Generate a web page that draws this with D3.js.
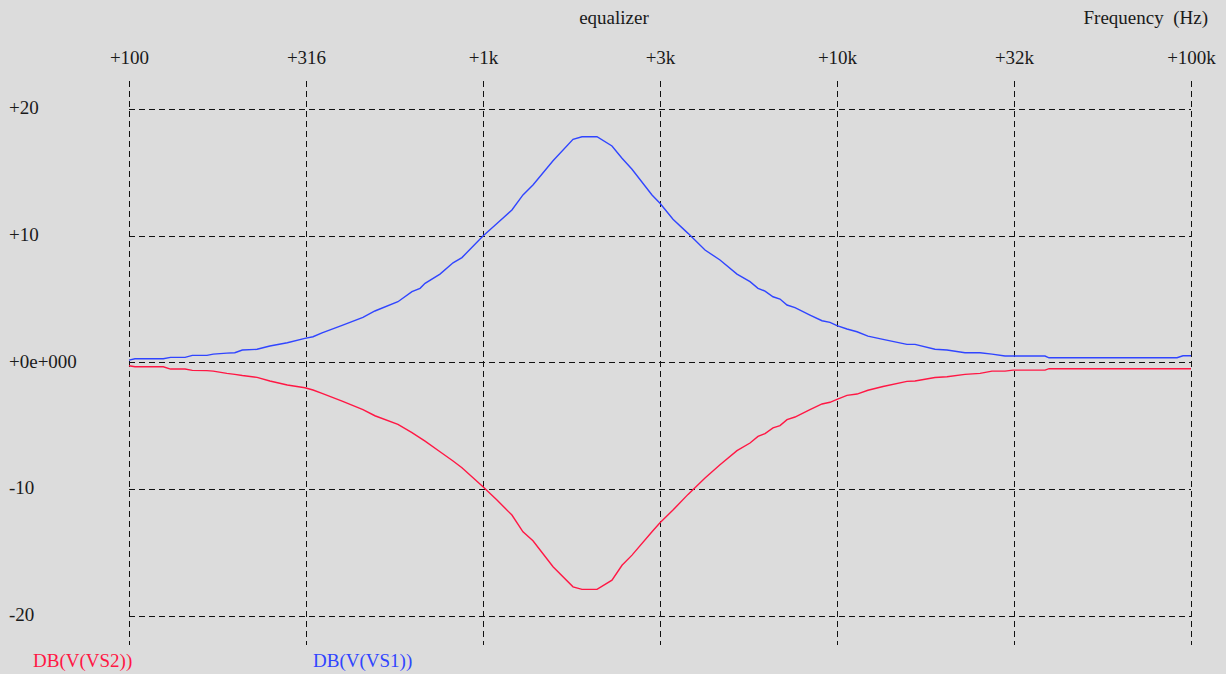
<!DOCTYPE html>
<html>
<head>
<meta charset="utf-8">
<script src="https://cdn.jsdelivr.net/npm/d3@7/dist/d3.min.js"></script>
<style>
  html, body { margin: 0; padding: 0; background: #dcdcdc; }
  svg { display: block; }
</style>
</head>
<body>
<svg id="chart" width="1226" height="674"></svg>
<script>
// ---- data ----
const title = "equalizer";
const xAxisTitle = "Frequency  (Hz)";
const xTickValues = [100, 316.2, 1000, 3162, 10000, 31623, 100000];
const xTickLabels = ["+100", "+316", "+1k", "+3k", "+10k", "+32k", "+100k"];
const yTickValues = [20, 10, 0, -10, -20];
const yTickLabels = ["+20", "+10", "+0e+000", "-10", "-20"];
const seriesNames = ["DB(V(VS2))", "DB(V(VS1))"];

const freq = [100, 104, 125, 131, 144, 151, 166, 173, 189, 199, 209, 230, 250, 280, 314, 331, 351, 400, 458, 495,
  575, 630, 664, 686, 756, 823, 872, 1000, 1095, 1207, 1297, 1384, 1577, 1796, 1904, 2099, 2314, 2470, 2636, 3002,
  3162, 3441, 3795, 4238, 4672, 5218, 5679, 5982, 6261, 6595, 6902, 7224, 7610, 8389, 9071, 9554, 10000, 10670,
  11390, 12230, 13490, 15760, 16610, 18910, 20450, 22990, 25350, 27410, 29830, 31420, 38690, 39720, 91300, 94920, 100000];

const vs1 = [0.18, 0.28, 0.28, 0.39, 0.39, 0.55, 0.55, 0.65, 0.73, 0.76, 0.97, 1.03, 1.29, 1.55, 1.89, 2.02, 2.33, 2.92, 3.55, 4.05,
  4.78, 5.57, 5.84, 6.23, 6.96, 7.85, 8.26, 9.96, 10.95, 12.01, 13.2, 13.99, 15.9, 17.59, 17.79, 17.79, 17.06, 16.09, 15.22, 13.2,
  12.54, 11.28, 10.17, 8.86, 8.07, 6.96, 6.36, 5.84, 5.62, 5.17, 4.99, 4.52, 4.31, 3.73, 3.28, 3.15, 2.89, 2.63,
  2.41, 2.07, 1.81, 1.42, 1.42, 1.03, 0.97, 0.76, 0.76, 0.65, 0.5, 0.5, 0.5, 0.36, 0.36, 0.52, 0.52];

const vs2 = [-0.27, -0.35, -0.35, -0.53, -0.53, -0.63, -0.65, -0.69, -0.87, -0.95, -1.04, -1.18, -1.47, -1.79, -2.0, -2.18, -2.44, -3.05, -3.72, -4.21,
  -4.89, -5.54, -5.95, -6.21, -7.05, -7.78, -8.31, -9.81, -10.86, -12.04, -13.36, -14.07, -16.12, -17.7, -17.9, -17.9, -17.17, -16.0, -15.2, -13.36,
  -12.65, -11.65, -10.41, -9.12, -8.07, -6.96, -6.36, -5.84, -5.62, -5.17, -4.99, -4.52, -4.31, -3.73, -3.28, -3.15, -2.92, -2.6,
  -2.5, -2.2, -1.9, -1.5, -1.47, -1.2, -1.13, -0.95, -0.87, -0.69, -0.69, -0.61, -0.61, -0.5, -0.5, -0.5, -0.5];

// ---- drawing ----
const FONT = "'Liberation Serif', 'Times New Roman', Times, serif";
const FS = 19;
const svg = d3.select("#chart");
svg.append("rect").attr("width", 1226).attr("height", 674).attr("fill", "#dcdcdc");

const x = d3.scaleLog().domain([100, 100000]).range([129, 1191]);
const y = d3.scaleLinear().domain([-20, 20]).range([616, 108.7]);

const gridTop = 81, gridBottom = 645;

// horizontal grid
svg.append("g").selectAll("line").data(yTickValues).join("line")
  .attr("x1", x(100)).attr("x2", x(100000))
  .attr("y1", d => Math.round(y(d)) + 0.5).attr("y2", d => Math.round(y(d)) + 0.5)
  .attr("stroke", "#111").attr("stroke-width", 1).attr("stroke-dasharray", "6,4");

// vertical grid
svg.append("g").selectAll("line").data(xTickValues).join("line")
  .attr("x1", d => Math.round(x(d)) + 0.5).attr("x2", d => Math.round(x(d)) + 0.5)
  .attr("y1", gridTop).attr("y2", gridBottom)
  .attr("stroke", "#111").attr("stroke-width", 1).attr("stroke-dasharray", "6,4");

// x axis labels (top)
const xAxis = d3.axisTop(x).tickValues(xTickValues)
  .tickFormat((d, i) => xTickLabels[i]).tickSize(0).tickPadding(0);
const gx = svg.append("g").attr("transform", "translate(0,64)").call(xAxis)
  .attr("font-family", FONT).attr("font-size", FS);
gx.select(".domain").remove();
gx.selectAll("text").attr("fill", "#1a1a1a");

// y axis labels (left, left-aligned)
const yAxis = d3.axisRight(y).tickValues(yTickValues)
  .tickFormat((d, i) => yTickLabels[i]).tickSize(0).tickPadding(0);
const gy = svg.append("g").attr("transform", "translate(9,0)").call(yAxis)
  .attr("font-family", FONT).attr("font-size", FS);
gy.select(".domain").remove();
gy.selectAll("text").attr("fill", "#1a1a1a").attr("dy", "0.25em");

// titles
svg.append("text").attr("x", 614).attr("y", 24).attr("text-anchor", "middle")
  .attr("font-family", FONT).attr("font-size", FS).attr("fill", "#1a1a1a").text(title);
svg.append("text").attr("x", 1208).attr("y", 24).attr("text-anchor", "end")
  .attr("font-family", FONT).attr("font-size", FS).attr("fill", "#1a1a1a")
  .style("white-space", "pre").text(xAxisTitle);

// series
const line = d3.line().x(d => x(d[0])).y(d => y(d[1]));
const colors = ["#ff1744", "#3045ff"];
const series = [d3.zip(freq, vs2), d3.zip(freq, vs1)];
svg.append("g").selectAll("path").data(series).join("path")
  .attr("d", line).attr("fill", "none")
  .attr("stroke", (d, i) => colors[i]).attr("stroke-width", 1.4);

// legend
const legendX = [33, 313];
svg.append("g").selectAll("text").data(seriesNames).join("text")
  .attr("x", (d, i) => legendX[i]).attr("y", 667)
  .attr("font-family", FONT).attr("font-size", FS)
  .attr("fill", (d, i) => colors[i]).text(d => d);
</script>
</body>
</html>
